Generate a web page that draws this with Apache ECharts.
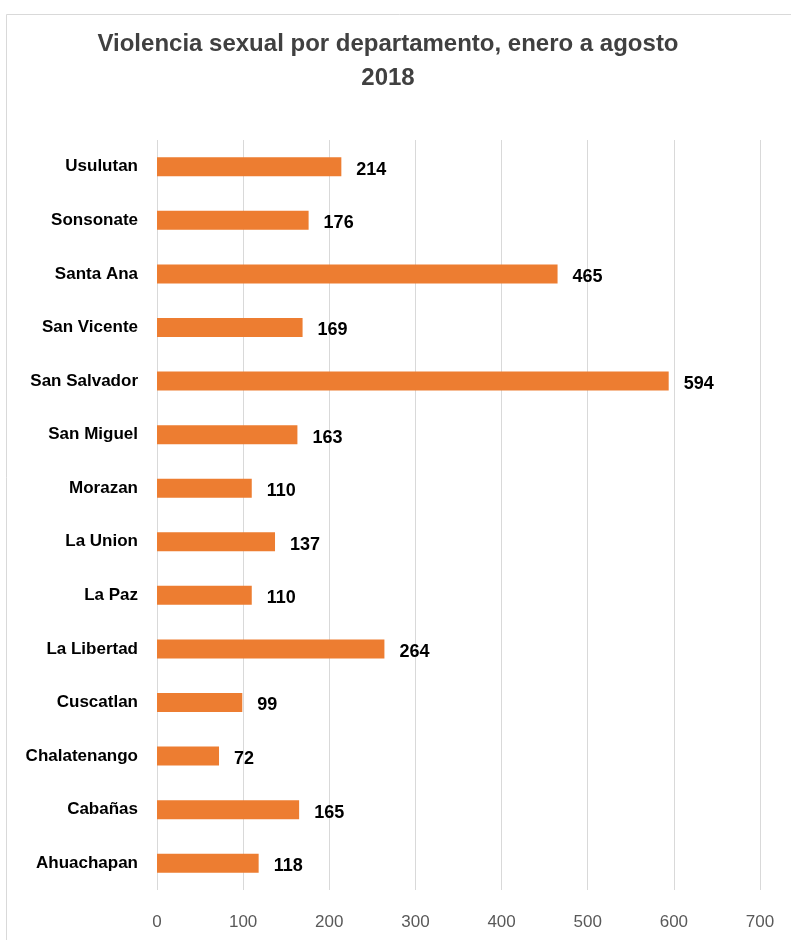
<!DOCTYPE html>
<html>
<head>
<meta charset="utf-8">
<script src="https://cdn.jsdelivr.net/npm/echarts@6/dist/echarts.min.js"></script>
<style>
  html, body { margin: 0; padding: 0; background: #fff; }
  #chart { width: 791px; height: 940px; }
</style>
</head>
<body>
<div id="chart"></div>
<script>
const departamentos = [
  'Ahuachapan', 'Cabañas', 'Chalatenango', 'Cuscatlan', 'La Libertad', 'La Paz',
  'La Union', 'Morazan', 'San Miguel', 'San Salvador', 'San Vicente', 'Santa Ana',
  'Sonsonate', 'Usulutan'
]
const casos = [118, 165, 72, 99, 264, 110, 137, 110, 163, 594, 169, 465, 176, 214]
const xTicks = [0, 100, 200, 300, 400, 500, 600, 700]

const font = '"Liberation Sans", Arial, sans-serif'

const chart = echarts.init(document.getElementById('chart'))

chart.setOption({
  animation: false,
  graphic: [{
    type: 'rect',
    shape: { x: 6.5, y: 14.5, width: 820, height: 960 },
    style: { fill: 'none', stroke: '#d9d9d9', lineWidth: 1 },
    z: -1
  }],
  title: {
    text: 'Violencia sexual por departamento, enero a agosto\n2018',
    left: 383,
    top: 22,
    textAlign: 'center',
    textStyle: {
      fontFamily: font,
      fontSize: 24,
      fontWeight: 'bold',
      color: '#404040',
      lineHeight: 34
    }
  },
  grid: {
    left: 157,
    right: 31,
    top: 140,
    bottom: 50
  },
  xAxis: {
    type: 'value',
    min: xTicks[0],
    max: xTicks[xTicks.length - 1],
    interval: 100,
    axisLine: { show: false },
    axisTick: { show: false },
    axisLabel: {
      fontFamily: font,
      fontSize: 17,
      color: '#595959',
      margin: 24
    },
    splitLine: { lineStyle: { color: '#d9d9d9', width: 1 } }
  },
  yAxis: {
    type: 'category',
    data: departamentos,
    axisLine: { show: false },
    axisTick: { show: false },
    axisLabel: {
      fontFamily: font,
      fontSize: 17,
      fontWeight: 'bold',
      color: '#000',
      margin: 19
    }
  },
  series: [{
    type: 'bar',
    data: casos,
    barWidth: 19,
    itemStyle: { color: '#ed7d31' },
    label: {
      show: true,
      position: 'right',
      distance: 15,
      offset: [0, 3],
      fontFamily: font,
      fontSize: 18,
      fontWeight: 'bold',
      color: '#000'
    }
  }]
})
</script>
</body>
</html>
